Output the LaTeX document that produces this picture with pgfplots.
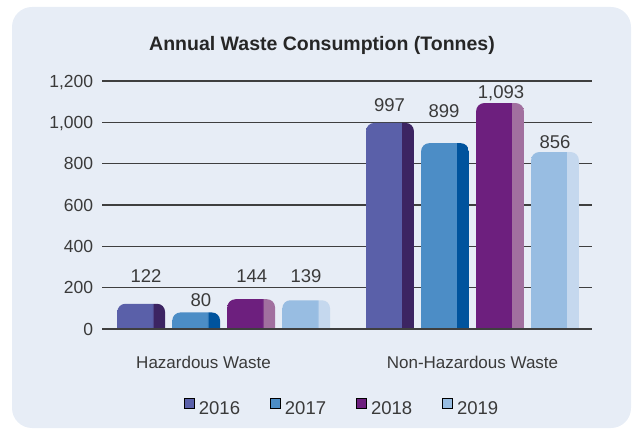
\documentclass[border=0pt]{standalone}
\usepackage{fontspec}
\setmainfont{Liberation Sans}
\usepackage{pgfplots}
\pgfplotsset{compat=1.18}
\definecolor{bgc}{HTML}{E7EDF6}
\definecolor{txt}{HTML}{3A3A3A}
\definecolor{gridc}{HTML}{3F3F3F}
\definecolor{c16a}{HTML}{5A60A9}\definecolor{c16b}{HTML}{3C2462}
\definecolor{c17a}{HTML}{4C8DC6}\definecolor{c17b}{HTML}{00539D}
\definecolor{c18a}{HTML}{6D1F7E}\definecolor{c18b}{HTML}{A1709F}
\definecolor{c19a}{HTML}{98BDE2}\definecolor{c19b}{HTML}{C5D8EE}
\pgfdeclarehorizontalshading{s16}{100bp}{color(0bp)=(c16a); color(62.2bp)=(c16a); color(62.3bp)=(c16b); color(100bp)=(c16b)}
\pgfdeclarehorizontalshading{s17}{100bp}{color(0bp)=(c17a); color(62.2bp)=(c17a); color(62.3bp)=(c17b); color(100bp)=(c17b)}
\pgfdeclarehorizontalshading{s18}{100bp}{color(0bp)=(c18a); color(62.2bp)=(c18a); color(62.3bp)=(c18b); color(100bp)=(c18b)}
\pgfdeclarehorizontalshading{s19}{100bp}{color(0bp)=(c19a); color(62.2bp)=(c19a); color(62.3bp)=(c19b); color(100bp)=(c19b)}
\pgfplotstableread{
x ly v
0.6877 227 122
0.9088 108 80
1.1125 227 144
1.3308 227 139
1.6664 1051 997
1.8855 1022 899
2.1146 1116 1093
2.3316 874 856
}\labeltab
\begin{document}
\begin{tikzpicture}
\path[use as bounding box] (0pt,0pt) rectangle (632pt,429pt);
\fill[bgc, rounded corners=20pt] (12pt,1pt) rectangle (631pt,422pt);
\node[anchor=base, text=black!85, font=\bfseries\fontsize{19.5}{22}\selectfont] at (322pt,378.6pt) {Annual Waste Consumption (Tonnes)};
\begin{axis}[
  at={(102pt,91.733pt)}, anchor=south west,
  scale only axis, width=490pt, height=256.27pt,
  clip=false,
  xmin=0.5109, xmax=2.4803,
  ymin=-40, ymax=1200,
  % bars start at the bottom of the axis box (user -40); that strip is masked below
  y coord trafo/.code={\pgfmathparse{(#1)==0 ? 0 : (#1)+40}},
  y coord inv trafo/.code={\pgfmathparse{(#1)-40}},
  ytick={0.001,200,400,600,800,1000,1200},
  yticklabels={0,200,400,600,800,{1,000},{1,200}},
  xtick={0.9188,2},
  xticklabels={Hazardous Waste,Non-Hazardous Waste},
  axis line style={draw=none},
  major tick length=0pt,
  tick style={draw=none},
  ymajorgrids,
  grid style={line width=1.1pt, gridc},
  yticklabel style={anchor=east, inner sep=0pt, xshift=-8.7pt, text height=12.5pt, text depth=0pt, text=txt, font=\fontsize{17.5}{20}\selectfont},
  xticklabel style={anchor=base, inner sep=0pt, yshift=-30.73pt, text=txt, font=\fontsize{17}{20}\selectfont},
  legend style={at={(0.49,-0.276)}, anchor=center, draw=none, fill=none, legend columns=4,
    font=\fontsize{18.5}{20}\selectfont, text=txt,
    /tikz/every odd column/.append style={column sep=2.5pt},
    /tikz/every even column/.append style={column sep=28pt}},
  legend image code/.code={\fill[#1] (0pt,0pt) rectangle (10pt,10pt);},
  /pgf/number format/assume math mode=true,
  /pgf/number format/1000 sep={,},
]
\addlegendimage{fill=c16a}\addlegendentry{2016}
\addlegendimage{fill=c17a}\addlegendentry{2017}
\addlegendimage{fill=c18a}\addlegendentry{2018}
\addlegendimage{fill=c19a}\addlegendentry{2019}
% 2016
\addplot[forget plot, ybar, bar width=47.7pt, bar shift=-82.5pt, draw=none, shade, shading=s16, rounded corners=8pt] coordinates {(1,122)};
\addplot[forget plot, ybar, bar width=47.7pt, bar shift=-82.5pt, draw=none, shade, shading=s16, rounded corners=8pt] coordinates {(2,997)};
% 2017
\addplot[forget plot, ybar, bar width=47.7pt, bar shift=-27.5pt, draw=none, shade, shading=s17, rounded corners=8pt] coordinates {(1,80)};
\addplot[forget plot, ybar, bar width=47.7pt, bar shift=-27.5pt, draw=none, shade, shading=s17, rounded corners=8pt] coordinates {(2,899)};
% 2018
\addplot[forget plot, ybar, bar width=47.7pt, bar shift=27.5pt, draw=none, shade, shading=s18, rounded corners=8pt] coordinates {(1,144)};
\addplot[forget plot, ybar, bar width=47.7pt, bar shift=27.5pt, draw=none, shade, shading=s18, rounded corners=8pt] coordinates {(2,1093)};
% 2019
\addplot[forget plot, ybar, bar width=47.7pt, bar shift=82.5pt, draw=none, shade, shading=s19, rounded corners=8pt] coordinates {(1,139)};
\addplot[forget plot, ybar, bar width=47.7pt, bar shift=82.5pt, draw=none, shade, shading=s19, rounded corners=8pt] coordinates {(2,856)};
% mask the strip below zero and redraw the zero line on top
\fill[bgc] (axis cs:0.5109,-50) rectangle (axis cs:2.4803,0.001);
\draw[gridc, line width=1.1pt] (axis cs:0.5109,0.001) -- (axis cs:2.4803,0.001);
% value labels
\addplot[forget plot, draw=none, mark=none, point meta=explicit, nodes near coords,
  every node near coord/.style={anchor=base, inner sep=0pt, text=txt, font=\fontsize{18.5}{20}\selectfont}]
  table[x=x, y=ly, meta=v] {\labeltab};
\end{axis}
\end{tikzpicture}
\end{document}
